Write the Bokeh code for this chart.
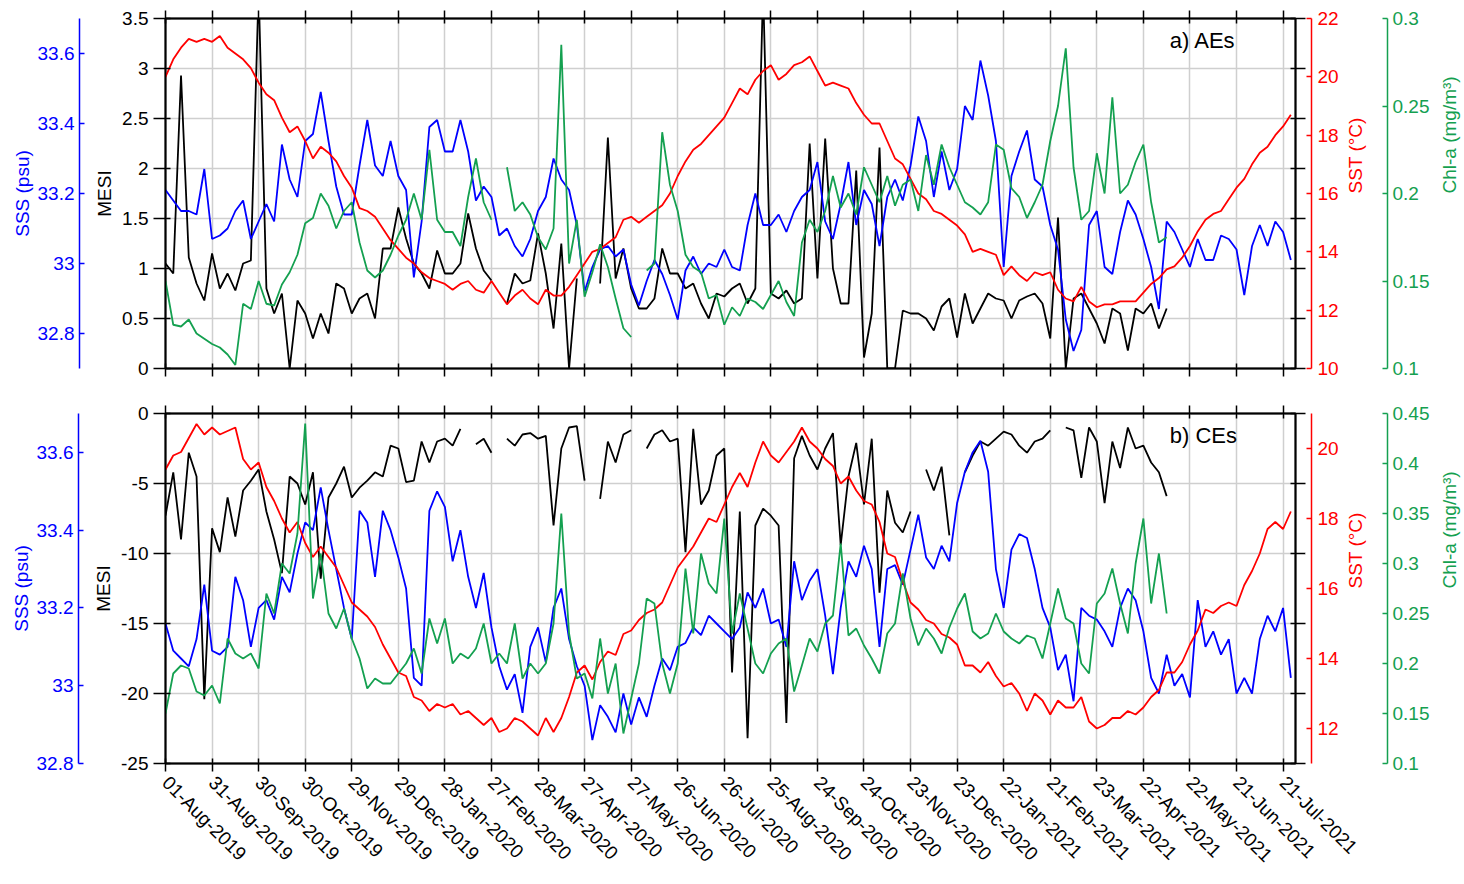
import math
import numpy as np
from bokeh.plotting import figure
from bokeh.models import Range1d, LinearAxis, FixedTicker, Grid, Label, ColumnDataSource
from bokeh.layouts import column
from bokeh.embed import file_html
from bokeh.resources import INLINE

nan = float("nan")

# ---------------- data (daily series read every 5 days from 01-Aug-2019) ----------------
start_date = "2019-08-01"
step_days = 5
n_points = 146
days = [i * step_days for i in range(n_points)]

tick_days = [0, 30, 60, 90, 120, 150, 180, 210, 240, 270, 300, 330, 360, 390, 420,
             450, 480, 510, 540, 570, 600, 630, 660, 690, 720]
tick_labels = ["01-Aug-2019", "31-Aug-2019", "30-Sep-2019", "30-Oct-2019", "29-Nov-2019",
               "29-Dec-2019", "28-Jan-2020", "27-Feb-2020", "28-Mar-2020", "27-Apr-2020",
               "27-May-2020", "26-Jun-2020", "26-Jul-2020", "25-Aug-2020", "24-Sep-2020",
               "24-Oct-2020", "23-Nov-2020", "23-Dec-2020", "22-Jan-2021", "21-Feb-2021",
               "23-Mar-2021", "22-Apr-2021", "22-May-2021", "21-Jun-2021", "21-Jul-2021"]

# ---- panel a) AEs ----
a_mesi = [1.05, 0.95, 2.93, 1.11, 0.85, 0.68, 1.15, 0.80, 0.95, 0.78,
          1.05, 1.08, 3.8, 0.80, 0.55, 0.75, 0.0, 0.68, 0.55, 0.30,
          0.55, 0.35, 0.85, 0.80, 0.55, 0.70, 0.75, 0.50, 1.20, 1.20,
          1.61, 1.30, 1.05, 0.95, 0.80, 1.18, 0.95, 0.95, 1.05, 1.55,
          1.20, 0.98, 0.88, nan, 0.65, 0.95, 0.85, 0.88, 1.35, 0.95,
          0.40, 1.25, 0.0, 0.90, nan, nan, 0.85, 2.31, 0.90, 1.20,
          0.80, 0.60, 0.60, 0.70, 1.20, 0.95, 0.95, 0.80, 0.85, 0.65,
          0.50, 0.75, 0.72, 0.80, 0.85, 0.65, 0.80, 3.8, 0.75, 0.70,
          0.78, 0.65, 0.70, 2.25, 0.90, 2.30, 1.00, 0.65, 0.65, 1.98,
          0.11, 0.55, 2.21, 0.0, 0.0, 0.58, 0.55, 0.55, 0.50, 0.38,
          0.62, 0.70, 0.31, 0.75, 0.45, 0.60, 0.75, 0.70, 0.68, 0.50,
          0.68, 0.72, 0.75, 0.65, 0.30, 1.51, 0.0, 0.70, 0.75, 0.60,
          0.45, 0.25, 0.60, 0.55, 0.18, 0.60, 0.55, 0.65, 0.40, 0.60,
          nan, nan, nan, nan, nan, nan, nan, nan, nan, nan,
          nan, nan, nan, nan, nan, nan]
a_sss = [33.21, 33.18, 33.15, 33.15, 33.14, 33.27, 33.07, 33.08, 33.10, 33.15,
         33.18, 33.07, 33.12, 33.17, 33.12, 33.34, 33.24, 33.19, 33.35, 33.37,
         33.49, 33.35, 33.22, 33.14, 33.14, 33.28, 33.41, 33.28, 33.25, 33.35,
         33.25, 33.21, 32.96, 33.12, 33.39, 33.41, 33.32, 33.32, 33.41, 33.32,
         33.18, 33.22, 33.19, 33.08, 33.10, 33.05, 33.02, 33.07, 33.15, 33.19,
         33.30, 33.24, 33.21, 33.11, 32.92, 32.99, 33.04, 33.05, 33.02, 33.04,
         32.94, 32.88, 32.95, 33.01, 32.97, 32.91, 32.84, 32.98, 33.02, 32.97,
         33.00, 32.99, 33.04, 32.99, 32.98, 33.11, 33.20, 33.11, 33.11, 33.14,
         33.09, 33.15, 33.19, 33.21, 33.29, 33.12, 33.07, 33.17, 33.29, 33.11,
         33.21, 33.17, 33.05, 33.19, 33.24, 33.18, 33.28, 33.42, 33.35, 33.19,
         33.32, 33.21, 33.27, 33.45, 33.41, 33.58, 33.48, 33.35, 32.99, 33.25,
         33.32, 33.38, 33.24, 33.22, 33.11, 33.04, 32.84, 32.75, 32.81, 33.11,
         33.15, 32.99, 32.97, 33.09, 33.18, 33.14, 33.07, 32.99, 32.87, 33.12,
         33.09, 33.04, 32.99, 33.07, 33.01, 33.01, 33.08, 33.07, 33.04, 32.91,
         33.05, 33.11, 33.05, 33.12, 33.09, 33.01]
a_sst = [20.0, 20.6, 21.0, 21.3, 21.2, 21.3, 21.2, 21.4, 21.0, 20.8,
         20.6, 20.3, 19.8, 19.4, 19.2, 18.6, 18.1, 18.3, 17.8, 17.2,
         17.6, 17.4, 17.1, 16.6, 16.2, 15.5, 15.4, 15.2, 14.8, 14.4,
         14.1, 13.8, 13.6, 13.3, 13.1, 13.0, 12.9, 12.7, 12.9, 13.0,
         12.7, 12.6, 13.0, 12.6, 12.2, 12.5, 12.7, 12.4, 12.2, 12.7,
         12.5, 12.5, 12.8, 13.2, 13.6, 14.0, 14.1, 14.3, 14.5, 15.1,
         15.2, 15.0, 15.2, 15.4, 15.6, 16.0, 16.6, 17.1, 17.5, 17.7,
         18.0, 18.3, 18.6, 19.1, 19.6, 19.4, 19.9, 20.2, 20.4, 19.9,
         20.1, 20.4, 20.5, 20.7, 20.2, 19.7, 19.8, 19.7, 19.6, 19.1,
         18.7, 18.4, 18.4, 17.8, 17.2, 17.0, 16.5, 16.0, 15.8, 15.4,
         15.3, 15.1, 14.9, 14.6, 14.0, 14.1, 14.0, 13.9, 13.2, 13.5,
         13.2, 13.0, 13.3, 13.2, 13.3, 12.7, 12.4, 12.3, 12.8, 12.3,
         12.1, 12.2, 12.2, 12.3, 12.3, 12.3, 12.6, 12.9, 13.1, 13.4,
         13.5, 13.8, 14.2, 14.7, 15.1, 15.3, 15.4, 15.8, 16.2, 16.5,
         17.0, 17.4, 17.6, 18.0, 18.3, 18.7]
a_chl = [0.150, 0.125, 0.124, 0.128, 0.120, 0.117, 0.114, 0.112, 0.108, 0.102,
         0.137, 0.134, 0.150, 0.137, 0.136, 0.148, 0.155, 0.165, 0.183, 0.186,
         0.200, 0.193, 0.180, 0.190, 0.195, 0.172, 0.156, 0.152, 0.156, 0.165,
         0.176, 0.185, 0.200, 0.185, 0.225, 0.185, 0.178, 0.178, 0.170, 0.198,
         0.220, 0.195, 0.185, nan, 0.215, 0.190, 0.195, 0.188, 0.175, 0.168,
         0.180, 0.285, 0.160, 0.185, 0.141, 0.155, 0.171, 0.158, 0.140, 0.123,
         0.118, nan, 0.156, 0.160, 0.235, 0.205, 0.190, 0.165, 0.158, 0.155,
         0.140, 0.142, 0.125, 0.135, 0.130, 0.140, 0.138, 0.134, 0.142, 0.150,
         0.138, 0.130, 0.172, 0.185, 0.178, 0.190, 0.210, 0.192, 0.200, 0.188,
         0.215, 0.205, 0.195, 0.210, 0.193, 0.205, 0.208, 0.190, 0.222, 0.205,
         0.228, 0.215, 0.205, 0.195, 0.192, 0.188, 0.195, 0.228, 0.225, 0.203,
         0.198, 0.186, 0.195, 0.205, 0.230, 0.250, 0.283, 0.215, 0.185, 0.190,
         0.223, 0.200, 0.255, 0.200, 0.205, 0.218, 0.228, 0.195, 0.172, 0.175,
         nan, nan, nan, nan, nan, nan, nan, nan, nan, nan,
         nan, nan, nan, nan, nan, nan]

# ---- panel b) CEs ----
b_mesi = [-7.3, -4.2, -9.0, -2.8, -4.5, -20.4, -8.2, -9.9, -6.0, -8.8,
          -5.5, -4.8, -4.0, -7.0, -9.0, -11.4, -4.5, -5.0, -6.5, -4.2,
          -11.8, -6.0, -5.0, -3.8, -6.0, -5.3, -4.8, -4.2, -4.5, -2.3,
          -2.5, -4.9, -4.8, -2.0, -3.5, -2.0, -1.8, -2.3, -1.1, nan,
          -2.2, -1.8, -2.8, nan, -1.8, -2.3, -1.5, -1.4, -1.8, -1.6,
          -8.0, -2.5, -1.0, -0.9, -4.8, nan, -6.1, -2.0, -3.5, -1.5,
          -1.2, nan, -2.5, -1.5, -1.2, -2.0, -1.8, -9.9, -1.1, -6.5,
          -5.5, -3.0, -2.5, -18.5, -7.0, -23.2, -8.0, -6.8, -7.3, -8.0,
          -22.1, -3.2, -1.6, -3.0, -4.0, -2.5, -1.4, -9.4, -4.5, -2.1,
          -6.5, -1.8, -12.8, -5.5, -7.8, -8.5, -7.0, nan, -4.0, -5.5,
          -3.8, -8.7, nan, -4.2, -3.0, -2.0, -2.3, -1.8, -1.3, -1.5,
          -2.3, -2.8, -2.0, -1.8, -1.2, nan, -1.0, -1.2, -4.6, -1.0,
          -2.0, -6.4, -2.0, -3.9, -1.0, -2.5, -2.3, -3.5, -4.2, -5.9,
          nan, nan, nan, nan, nan, nan, nan, nan, nan, nan,
          nan, nan, nan, nan, nan, nan]
b_sss = [33.16, 33.09, 33.07, 33.05, 33.12, 33.26, 33.09, 33.08, 33.10, 33.28,
         33.22, 33.10, 33.20, 33.22, 33.17, 33.28, 33.24, 33.34, 33.42, 33.40,
         33.51, 33.40, 33.30, 33.20, 33.12, 33.45, 33.42, 33.28, 33.45, 33.40,
         33.33, 33.25, 33.02, 33.00, 33.45, 33.50, 33.46, 33.32, 33.40, 33.28,
         33.20, 33.29, 33.15, 33.05, 32.99, 33.03, 32.93, 33.10, 33.15, 33.06,
         33.20, 33.25, 33.12, 33.05, 33.00, 32.86, 32.95, 32.92, 32.88, 32.98,
         32.90, 32.97, 32.92, 33.00, 33.07, 33.04, 33.10, 33.11, 33.15, 33.13,
         33.18, 33.16, 33.14, 33.12, 33.15, 33.24, 33.20, 33.25, 33.16, 33.17,
         33.10, 33.32, 33.22, 33.27, 33.30, 33.18, 33.03, 33.20, 33.32, 33.28,
         33.36, 33.30, 33.10, 33.30, 33.31, 33.26, 33.35, 33.44, 33.33, 33.30,
         33.36, 33.32, 33.47, 33.55, 33.60, 33.63, 33.55, 33.30, 33.20, 33.35,
         33.39, 33.38, 33.30, 33.20, 33.15, 33.04, 33.08, 32.96, 33.20, 33.18,
         33.17, 33.14, 33.10, 33.20, 33.25, 33.22, 33.14, 33.02, 32.98, 33.08,
         33.00, 33.03, 32.97, 33.22, 33.10, 33.14, 33.08, 33.12, 32.98, 33.02,
         32.98, 33.12, 33.18, 33.14, 33.20, 33.02]
b_sst = [19.4, 19.8, 19.9, 20.3, 20.7, 20.4, 20.6, 20.4, 20.5, 20.6,
         19.7, 19.4, 19.6, 18.9, 18.5, 18.0, 17.6, 17.9, 17.3, 16.9,
         17.2, 16.9, 16.6, 16.1, 15.6, 15.4, 15.2, 14.9, 14.4, 14.0,
         13.6, 13.5, 12.9, 12.8, 12.5, 12.7, 12.6, 12.7, 12.4, 12.5,
         12.3, 12.1, 12.3, 11.9, 12.0, 12.3, 12.2, 12.0, 11.8, 12.3,
         11.9, 12.3, 12.9, 13.6, 13.8, 13.4, 13.9, 14.2, 14.1, 14.7,
         14.8, 15.1, 15.3, 15.4, 15.6, 16.1, 16.6, 16.9, 17.2, 17.6,
         18.0, 17.9, 18.4, 18.9, 19.3, 18.9, 19.6, 20.2, 19.8, 19.6,
         19.9, 20.2, 20.6, 20.2, 20.0, 19.7, 19.5, 19.0, 19.2, 18.8,
         18.5, 18.4, 17.9, 17.0, 16.9, 16.2, 15.6, 15.4, 15.1, 15.0,
         14.7, 14.6, 14.4, 13.8, 13.8, 13.6, 13.9, 13.5, 13.2, 13.3,
         13.0, 12.5, 13.0, 12.8, 12.4, 12.8, 12.6, 12.6, 12.9, 12.2,
         12.0, 12.1, 12.3, 12.3, 12.5, 12.4, 12.6, 12.9, 13.1, 13.6,
         13.6, 13.9, 14.4, 14.8, 15.4, 15.3, 15.5, 15.6, 15.5, 16.1,
         16.5, 17.0, 17.7, 17.9, 17.7, 18.2]
b_chl = [0.150, 0.190, 0.198, 0.195, 0.172, 0.168, 0.178, 0.160, 0.225, 0.210,
         0.205, 0.210, 0.195, 0.270, 0.250, 0.300, 0.290, 0.330, 0.440, 0.265,
         0.310, 0.250, 0.235, 0.255, 0.225, 0.205, 0.175, 0.185, 0.180, 0.180,
         0.190, 0.200, 0.215, 0.190, 0.245, 0.220, 0.245, 0.200, 0.210, 0.205,
         0.215, 0.240, 0.200, 0.210, 0.200, 0.240, 0.185, 0.200, 0.190, 0.200,
         0.240, 0.350, 0.230, 0.185, 0.190, 0.165, 0.225, 0.170, 0.200, 0.130,
         0.165, 0.200, 0.265, 0.260, 0.200, 0.170, 0.200, 0.295, 0.230, 0.310,
         0.280, 0.270, 0.345, 0.230, 0.270, 0.235, 0.200, 0.190, 0.210, 0.220,
         0.225, 0.172, 0.198, 0.225, 0.212, 0.240, 0.248, 0.320, 0.228, 0.235,
         0.218, 0.205, 0.190, 0.230, 0.240, 0.290, 0.245, 0.218, 0.235, 0.225,
         0.210, 0.236, 0.255, 0.270, 0.232, 0.225, 0.230, 0.250, 0.232, 0.225,
         0.220, 0.228, 0.225, 0.205, 0.240, 0.275, 0.245, 0.240, 0.200, 0.190,
         0.260, 0.270, 0.295, 0.260, 0.230, 0.300, 0.345, 0.260, 0.310, 0.250,
         nan, nan, nan, nan, nan, nan, nan, nan, nan, nan,
         nan, nan, nan, nan, nan, nan]

# axis ranges and ticks
a_ranges = {"mesi": (0, 3.5), "sss": (32.7, 33.7), "sst": (10, 22), "chl": (0.1, 0.3)}
a_ticks = {"mesi": [0, 0.5, 1, 1.5, 2, 2.5, 3, 3.5], "sss": [32.8, 33.0, 33.2, 33.4, 33.6],
           "sst": [10, 12, 14, 16, 18, 20, 22], "chl": [0.1, 0.15, 0.2, 0.25, 0.3]}
b_ranges = {"mesi": (-25, 0), "sss": (32.8, 33.7), "sst": (11, 21), "chl": (0.1, 0.45)}
b_ticks = {"mesi": [-25, -20, -15, -10, -5, 0], "sss": [32.8, 33.0, 33.2, 33.4, 33.6],
           "sst": [12, 14, 16, 18, 20], "chl": [0.1, 0.15, 0.2, 0.25, 0.3, 0.35, 0.4, 0.45]}

# ---------------- styling ----------------
FONT = "Liberation Sans"
BLUE = "#0000ff"
RED = "#ff0000"
GREEN = "#14a050"
GRID = "#cfcfcf"
TICK_FS = "19px"
LABEL_FS = "19px"


def fmt(ticks):
    return {t: f"{t:g}" for t in ticks}


def blank(ticks):
    return {t: "" for t in ticks}


def style_axis(ax, color, tick_in, tick_out):
    ax.axis_line_color = color
    ax.axis_line_width = 1.5
    ax.major_tick_line_color = color
    ax.major_tick_line_width = 1.5
    ax.major_tick_in = tick_in
    ax.major_tick_out = tick_out
    ax.minor_tick_in = 0
    ax.minor_tick_out = 0
    ax.minor_tick_line_color = None
    ax.major_label_text_color = color
    ax.major_label_text_font = FONT
    ax.major_label_text_font_size = TICK_FS
    ax.axis_label_text_color = color
    ax.axis_label_text_font = FONT
    ax.axis_label_text_font_size = LABEL_FS
    ax.axis_label_text_font_style = "normal"


def hide_labels(ax):
    ax.major_label_text_color = None


def label_upward(ax):
    # right-hand axis titles read bottom-to-top, as on the left
    if "axis_label_orientation" in ax.properties():
        try:
            ax.axis_label_orientation = math.pi / 2
        except Exception:
            pass


def spacer(width, at):
    # invisible axis (one white tick, no line, no labels) that opens a gap between axes
    ax = LinearAxis(ticker=FixedTicker(ticks=[at]), major_label_overrides={at: ""},
                    axis_line_color=None, major_tick_line_color="white",
                    major_tick_in=0, major_tick_out=width, minor_tick_in=0, minor_tick_out=0,
                    major_label_standoff=0)
    ax.major_label_text_color = None
    return ax


def make_panel(mesi, sss, sst, chl, rng, ticks, title, title_y, show_dates,
               border_top, border_bottom, left_gap, right_gap):
    p = figure(frame_width=1130, frame_height=350,
               x_range=Range1d(0, 728), y_range=Range1d(*rng["mesi"]),
               x_axis_type=None, y_axis_type=None,
               output_backend="svg", toolbar_location=None,
               min_border_left=165, min_border_right=169,
               min_border_top=border_top, min_border_bottom=border_bottom,
               outline_line_color="black", outline_line_width=2,
               background_fill_color="white", border_fill_color="white")
    p.extra_y_ranges = {"sss": Range1d(*rng["sss"]), "sst": Range1d(*rng["sst"]),
                        "chl": Range1d(*rng["chl"])}

    p.add_layout(Grid(dimension=0, ticker=FixedTicker(ticks=tick_days),
                      grid_line_color=GRID, grid_line_width=1.5))
    p.add_layout(Grid(dimension=1, ticker=FixedTicker(ticks=ticks["mesi"]),
                      grid_line_color=GRID, grid_line_width=1.5))

    src = ColumnDataSource(dict(day=np.array(days, dtype=float),
                                mesi=np.array(mesi, dtype=float),
                                sss=np.array(sss, dtype=float),
                                sst=np.array(sst, dtype=float),
                                chl=np.array(chl, dtype=float)))
    p.line("day", "mesi", source=src, line_color="black", line_width=1.8)
    p.line("day", "sss", source=src, y_range_name="sss", line_color=BLUE, line_width=1.8)
    p.line("day", "sst", source=src, y_range_name="sst", line_color=RED, line_width=1.8)
    p.line("day", "chl", source=src, y_range_name="chl", line_color=GREEN, line_width=1.8)

    mid = ticks["mesi"][len(ticks["mesi"]) // 2]

    # left: MESI, gap, SSS
    ax = LinearAxis(ticker=FixedTicker(ticks=ticks["mesi"]),
                    major_label_overrides=fmt(ticks["mesi"]), axis_label="MESI")
    style_axis(ax, "black", 5, 12)
    ax.major_label_standoff = 5
    ax.axis_label_standoff = 4
    p.add_layout(ax, "left")
    p.add_layout(spacer(left_gap, mid), "left")
    ax = LinearAxis(y_range_name="sss", ticker=FixedTicker(ticks=ticks["sss"]),
                    major_label_overrides=fmt(ticks["sss"]), axis_label="SSS (psu)")
    style_axis(ax, BLUE, 5, 0)
    ax.major_label_standoff = 5
    ax.axis_label_standoff = 2
    p.add_layout(ax, "left")

    # right: MESI mirror, SST, gap, Chl-a
    ax = LinearAxis(ticker=FixedTicker(ticks=ticks["mesi"]),
                    major_label_overrides=blank(ticks["mesi"]))
    style_axis(ax, "black", 5, 10)
    hide_labels(ax)
    ax.major_label_standoff = 0
    p.add_layout(ax, "right")
    p.add_layout(spacer(6, mid), "right")
    ax = LinearAxis(y_range_name="sst", ticker=FixedTicker(ticks=ticks["sst"]),
                    major_label_overrides=fmt(ticks["sst"]), axis_label="SST (°C)")
    style_axis(ax, RED, 5, 0)
    ax.major_label_standoff = 6
    ax.axis_label_standoff = 14
    label_upward(ax)
    p.add_layout(ax, "right")
    p.add_layout(spacer(right_gap, mid), "right")
    ax = LinearAxis(y_range_name="chl", ticker=FixedTicker(ticks=ticks["chl"]),
                    major_label_overrides=fmt(ticks["chl"]), axis_label="Chl-a (mg/m³)")
    style_axis(ax, GREEN, 5, 0)
    ax.major_label_standoff = 5
    ax.axis_label_standoff = 17
    label_upward(ax)
    p.add_layout(ax, "right")

    # top ticks
    ax = LinearAxis(ticker=FixedTicker(ticks=tick_days), major_label_overrides=blank(tick_days))
    style_axis(ax, "black", 5, 8)
    hide_labels(ax)
    ax.major_label_standoff = 0
    p.add_layout(ax, "above")

    # bottom ticks (+ dates)
    if show_dates:
        ax = LinearAxis(ticker=FixedTicker(ticks=tick_days),
                        major_label_overrides=dict(zip(tick_days, tick_labels)),
                        major_label_orientation=-math.pi / 4)
        style_axis(ax, "black", 5, 8)
        ax.major_label_standoff = 8
    else:
        ax = LinearAxis(ticker=FixedTicker(ticks=tick_days), major_label_overrides=blank(tick_days))
        style_axis(ax, "black", 5, 8)
        hide_labels(ax)
        ax.major_label_standoff = 0
    p.add_layout(ax, "below")

    p.add_layout(Label(x=647, y=title_y, text=title, text_font=FONT, text_font_size="22px",
                       text_baseline="middle", text_color="black"))
    return p


p1 = make_panel(a_mesi, a_sss, a_sst, a_chl, a_ranges, a_ticks, "a) AEs", 3.28, False,
                18, 22, 12, 8)
p2 = make_panel(b_mesi, b_sss, b_sst, b_chl, b_ranges, b_ticks, "b) CEs", -1.57, True,
                23, 121, 12, 8)

layout = column(p1, p2)
open("out.html", "w").write(file_html(layout, INLINE))
